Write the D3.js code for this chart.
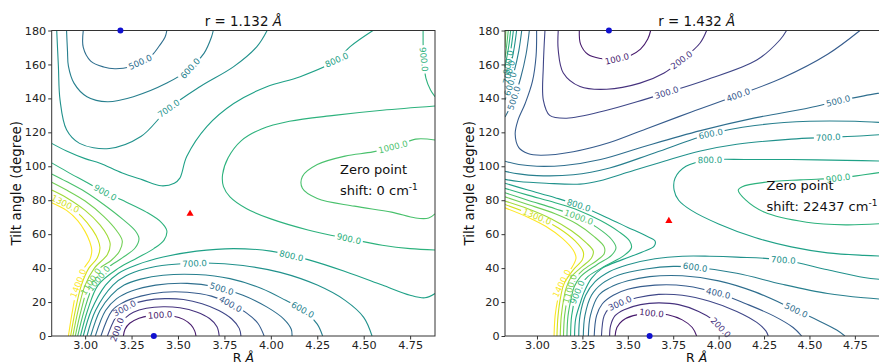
<!DOCTYPE html>
<html><head><meta charset="utf-8">
<script src="https://cdn.jsdelivr.net/npm/d3@7"></script>
<style>body{margin:0;background:#fff}text{font-family:"DejaVu Sans",sans-serif}</style>
</head><body>
<svg id="c" width="879" height="364"></svg>
<script>
// ---------------- data ----------------
const levels = [100,200,300,400,500,600,700,800,900,1000,1100,1200,1300,1400];
const xTicks = [3.00,3.25,3.50,3.75,4.00,4.25,4.50,4.75];
const yTicks = [0,20,40,60,80,100,120,140,160,180];

// panel 1 (r = 1.132 Å): contour lines [level, [[R, tilt], ...]]
const p1Contours = [
 [100,[[3.206,0],[3.215,4],[3.24,7.5],[3.29,10.5],[3.35,12],[3.41,12.4],[3.47,11.8],[3.53,9.8],[3.57,6.5],[3.59,3],[3.597,0]]],
 [200,[[3.16,0],[3.18,6],[3.22,11],[3.26,14],[3.33,16.3],[3.42,17.2],[3.51,16.6],[3.6,14.2],[3.67,10.3],[3.71,5.5],[3.722,0]]],
 [300,[[3.12,0],[3.15,8],[3.19,15],[3.25,18.5],[3.33,21],[3.43,22],[3.53,21.5],[3.63,19],[3.72,15],[3.79,10],[3.83,4.5],[3.839,0]]],
 [400,[[3.085,0],[3.145,15],[3.2,19.5],[3.30,23.5],[3.42,25.8],[3.55,25.8],[3.68,23.5],[3.78,19],[3.87,13.5],[3.93,7.5],[3.964,0]]],
 [500,[[3.055,0],[3.11,15],[3.17,22],[3.25,26.5],[3.38,30],[3.55,31],[3.70,29],[3.85,24],[3.98,17],[4.07,10],[4.11,4],[4.114,0]]],
 [600,[[3.03,0],[3.08,15],[3.14,24],[3.21,30],[3.3,33.5],[3.42,35.8],[3.60,36.2],[3.78,33.8],[3.95,28],[4.08,21],[4.18,15],[4.25,7],[4.279,0]]],
 [700,[[3.01,0],[3.056,15],[3.15,30],[3.22,35.5],[3.32,39.5],[3.45,42],[3.65,43],[3.85,41.5],[4.05,37.5],[4.25,30],[4.40,21],[4.50,11],[4.545,0]]],
 [800,[[2.99,0],[3.033,15],[3.11,30],[3.18,37],[3.28,42],[3.42,46.5],[3.6,50],[3.8,51.5],[4.0,50],[4.2,45],[4.4,38],[4.6,30],[4.75,24],[4.83,22.5],[4.884,25]]],
 [500,[[2.99,180],[2.99,170],[3.03,162],[3.10,158.5],[3.16,157.5],[3.24,158.5],[3.30,161.5],[3.36,165.5],[3.40,171],[3.43,176],[3.44,180]]],
 [600,[[2.90,180],[2.905,168],[2.91,159],[2.94,149],[3.01,141],[3.12,138],[3.26,141],[3.44,149],[3.565,157.5],[3.64,166.5],[3.68,176],[3.69,180]]],
 [700,[[2.847,180],[2.856,159],[2.865,139],[2.90,121.5],[2.97,113.5],[3.13,110.5],[3.30,117.5],[3.45,134],[3.62,147],[3.80,158.7],[3.925,170.5],[3.98,180]]],
 [800,[[2.82,113.5],[2.9,109],[3.0,104.5],[3.08,101.8],[3.2,96],[3.31,92],[3.41,88.5],[3.48,90],[3.51,93],[3.547,105.7],[3.655,123.4],[3.80,137],[3.978,146.9],[4.158,152.8],[4.355,162.6],[4.427,170.5],[4.55,180]]],
 [900,[[2.82,102],[2.9,97],[3.0,91],[3.108,84.5],[3.22,79],[3.33,73],[3.41,67],[3.44,62],[3.425,56.5],[3.37,51.5],[3.28,46],[3.18,40],[3.07,30],[3.013,15],[2.975,0]]],
 [900,[[4.884,135.5],[4.6,133],[4.34,130],[4.1,126.5],[3.95,122],[3.84,115],[3.77,105],[3.74,95],[3.745,88],[3.78,82],[3.87,75],[4.0,69],[4.2,62.5],[4.42,57.3],[4.6,53.5],[4.75,51.5],[4.884,50.7]]],
 [900,[[4.82,180],[4.822,165],[4.835,152],[4.86,145],[4.884,141]]],
 [1000,[[4.884,115.5],[4.78,116],[4.68,112],[4.55,108.5],[4.4,106],[4.25,101],[4.17,94],[4.17,87],[4.25,81],[4.45,76.5],[4.65,73],[4.78,69.5],[4.85,69.5],[4.884,72]]],
 [1000,[[2.82,95.5],[2.9,91],[3.0,85],[3.1,77.5],[3.2,69],[3.27,62],[3.29,57.5],[3.27,52],[3.2,46],[3.12,40],[3.045,30],[2.995,15],[2.96,0]]],
 [1100,[[2.82,90.6],[2.9,86],[3.0,79.5],[3.1,70.5],[3.17,62],[3.2,56],[3.185,50],[3.14,44.5],[3.08,40],[3.02,30],[2.978,15],[2.947,0]]],
 [1200,[[2.82,86],[2.9,81.5],[3.0,74],[3.08,65.5],[3.12,59],[3.135,54],[3.12,48],[3.05,40],[3.0,30],[2.962,15],[2.934,0]]],
 [1300,[[2.82,82],[2.9,77.5],[2.98,70.5],[3.04,62.5],[3.07,56.5],[3.08,52],[3.065,46],[3.02,40],[2.98,30],[2.947,15],[2.922,0]]],
 [1400,[[2.82,78.5],[2.9,74],[2.96,68],[3.0,61.5],[3.025,55.5],[3.036,50.5],[3.025,45],[2.995,40],[2.96,30],[2.932,15],[2.91,0]]]
];
// panel 1 contour labels [level, R, tilt]
const p1Labels = [
 [500,3.296,161.6],[600,3.565,157.7],[700,3.449,134.2],[800,4.355,162.6],[900,4.825,163],[1000,4.66,110.6],
 [900,3.108,84.5],[1300,2.89,77.2],[900,4.42,57.3],[800,4.11,47.1],[700,3.59,41.8],[600,4.176,16.3],
 [500,3.736,28.1],[400,3.78,18.3],[300,3.206,17.5],[100,3.404,12],[200,3.14,5],[1400,2.964,31],[1100,3.018,33],[1000,3.072,34]
];
const p1Minima = [[3.19,180],[3.37,0]];
const p1Saddle = [[3.565,72]];

// panel 2 (r = 1.432 Å)
const p2Contours = [
 [100,[[3.233,180],[3.24,172],[3.28,166],[3.35,163.5],[3.43,163],[3.51,165],[3.57,169],[3.61,175],[3.626,180]]],
 [200,[[3.117,180],[3.117,168.5],[3.145,155],[3.237,147],[3.384,145.4],[3.567,149],[3.70,155],[3.796,162.6],[3.897,172.5],[3.934,180]]],
 [300,[[3.044,180],[3.035,159],[3.035,139],[3.07,130],[3.163,128.3],[3.384,133],[3.55,138],[3.714,143.4],[3.934,151],[4.21,162.6],[4.337,174.4],[4.374,180]]],
 [400,[[2.998,180],[2.995,165],[2.975,150],[2.935,137],[2.895,127],[2.88,119],[2.90,111],[2.95,107.5],[3.02,106.5],[3.2,108.6],[3.4,114],[3.6,122],[3.85,132],[4.108,142],[4.35,152],[4.6,166],[4.778,180]]],
 [500,[[2.958,180],[2.94,166],[2.91,152],[2.87,139],[2.824,129]]],
 [500,[[2.824,103],[2.9,101],[3.0,100],[3.15,100.5],[3.35,104],[3.6,112],[3.9,121],[4.2,128.5],[4.5,134.5],[4.658,138.5],[4.8,141.5],[4.934,144]]],
 [600,[[2.916,180],[2.9,168],[2.875,156],[2.85,147],[2.824,139]]],
 [600,[[2.824,97],[2.9,95.5],[3.0,94.5],[3.2,95],[3.4,99],[3.65,108],[3.952,119],[4.2,124],[4.5,126.5],[4.75,126.5],[4.934,125.5]]],
 [700,[[2.888,180],[2.875,170],[2.855,159],[2.824,147]]],
 [700,[[2.824,92.3],[2.9,91],[3.05,90],[3.237,89.5],[3.347,91.5],[3.5,96.5],[3.7,103],[3.9,109],[4.1,113],[4.4,116],[4.603,117],[4.8,118],[4.934,119]]],
 [800,[[2.870,180],[2.858,170],[2.84,160],[2.824,153]]],
 [900,[[2.855,180],[2.845,171],[2.824,158.5]]],
 [1000,[[2.842,180],[2.833,171],[2.824,164]]],
 [1100,[[2.829,180],[2.824,170]]],
 [800,[[4.934,103],[4.7,103.5],[4.4,104],[4.15,104],[3.952,103.7],[3.82,100],[3.76,93],[3.755,86],[3.78,80],[3.85,74],[4.0,66],[4.2,58],[4.4,52.5],[4.6,49],[4.8,47.5],[4.934,47]]],
 [900,[[4.934,97],[4.8,95],[4.658,93],[4.45,92],[4.25,90.5],[4.13,88],[4.108,86],[4.15,80],[4.25,73],[4.484,67],[4.7,65.5],[4.934,66.5]]],
 [100,[[3.43,0],[3.44,5],[3.47,9],[3.53,12],[3.63,13.5],[3.72,12.5],[3.80,9.5],[3.855,5],[3.879,0]]],
 [200,[[3.40,0],[3.405,6],[3.43,12],[3.48,15.5],[3.57,18.5],[3.67,19.5],[3.78,18.5],[3.89,14.5],[3.97,9.5],[4.02,4],[4.044,0]]],
 [300,[[3.355,0],[3.37,12],[3.40,16.5],[3.457,19.3],[3.55,22.5],[3.67,24.5],[3.80,24],[3.95,20.5],[4.10,14.5],[4.21,8],[4.26,3],[4.273,0]]],
 [400,[[3.315,0],[3.328,12],[3.36,19],[3.42,24],[3.5,27.5],[3.65,30],[3.82,29.5],[3.998,25.2],[4.15,19],[4.3,12],[4.41,5],[4.457,0]]],
 [500,[[3.283,0],[3.294,12],[3.34,24],[3.4,28.5],[3.5,32.5],[3.62,35],[3.8,35.5],[4.0,32.5],[4.2,26],[4.41,16],[4.55,9],[4.65,3.5],[4.695,0]]],
 [600,[[3.255,0],[3.264,12],[3.30,24],[3.36,31],[3.45,36],[3.6,39.5],[3.75,41],[3.87,40.5],[4.1,37],[4.35,30.5],[4.6,25],[4.8,22.5],[4.934,21.5]]],
 [700,[[3.23,0],[3.237,12],[3.268,24],[3.32,32],[3.4,38],[3.5,42],[3.65,45.5],[3.8,47],[3.95,47],[4.1,46.5],[4.356,44.8],[4.6,39],[4.8,34.5],[4.934,33]]],
 [800,[[2.824,90],[2.95,86],[3.1,81.5],[3.23,77],[3.38,70],[3.5,64],[3.6,59],[3.65,56],[3.645,53],[3.58,49.5],[3.47,45],[3.36,40],[3.3,34],[3.26,26],[3.24,20],[3.213,10],[3.207,0]]],
 [900,[[2.824,87],[2.95,83],[3.1,78.5],[3.23,74],[3.35,68],[3.45,61.5],[3.51,56],[3.52,52],[3.48,47.5],[3.38,41.5],[3.28,35],[3.235,29],[3.215,24],[3.191,12],[3.185,0]]],
 [1000,[[2.824,84.4],[2.95,80],[3.1,75],[3.23,70],[3.33,64],[3.41,57],[3.435,52],[3.41,47.5],[3.33,42],[3.24,35],[3.205,29],[3.192,24],[3.171,12],[3.165,0]]],
 [1100,[[2.824,82],[2.95,77.5],[3.1,72],[3.22,66],[3.31,59],[3.37,52.5],[3.37,48.5],[3.33,44.5],[3.25,38.5],[3.19,31],[3.171,24],[3.152,12],[3.146,0]]],
 [1200,[[2.824,79.5],[2.95,75],[3.08,69],[3.19,62],[3.27,55],[3.31,50],[3.3,46],[3.25,41],[3.19,35],[3.16,28],[3.151,24],[3.134,12],[3.128,0]]],
 [1300,[[2.824,77.5],[2.95,72.5],[3.0,70.3],[3.12,63.5],[3.21,56],[3.255,49.5],[3.25,45],[3.2,39],[3.15,31],[3.132,24],[3.116,12],[3.11,0]]],
 [1400,[[2.824,75.5],[2.95,70],[3.05,64.5],[3.14,57.5],[3.2,50.5],[3.215,46],[3.19,40],[3.15,34],[3.136,31],[3.115,22],[3.1,12],[3.094,0]]]
];
const p2Labels = [
 [100,3.439,164],[200,3.796,162.6],[300,3.714,143.4],[400,4.108,142],[500,4.658,138.5],[600,3.952,121.4],[700,4.603,117],
 [800,3.952,103.7],[900,4.658,93],[500,2.88,140],[600,2.87,148],[700,2.86,155],[800,2.85,161],
 [100,3.631,13.5],[200,4.007,4.5],[300,3.457,19.3],[400,3.998,25.2],[500,4.41,11.4],[600,3.87,39.9],[700,4.356,44.8],
 [800,3.23,77],[1000,3.23,70],[1300,3.0,70.3],[1400,3.136,31],[1100,3.175,28],[900,3.218,26]
];
const p2Minima = [[3.396,180],[3.62,0]];
const p2Saddle = [[3.726,67.8]];

const titles = ["1.132","1.432"];
const shifts = ["0","22437"];

// ---------------- drawing ----------------
const svg = d3.select("#c");
const defs = svg.append("defs");
const top0 = 30.5, bot0 = 336;
const color = l => d3.interpolateViridis(l / 1400);

const panels = [
  {left:51.7, right:435, dom:[2.82,4.884], contours:p1Contours, labels:p1Labels, minima:p1Minima, saddle:p1Saddle,
   title:titles[0], shift:shifts[0], noteX:340, noteY:174, ylabX:21},
  {left:505, right:888.3, dom:[2.824,4.934], contours:p2Contours, labels:p2Labels, minima:p2Minima, saddle:p2Saddle,
   title:titles[1], shift:shifts[1], noteX:766.5, noteY:190, ylabX:474}
];

panels.forEach((P, pi) => {
  const x = d3.scaleLinear().domain(P.dom).range([P.left, P.right]);
  const y = d3.scaleLinear().domain([0,180]).range([bot0, top0]);
  const g = svg.append("g");
  defs.append("clipPath").attr("id","clip"+pi).append("rect")
    .attr("x",P.left).attr("y",top0).attr("width",P.right-P.left).attr("height",bot0-top0);

  const line = d3.line().x(d=>x(d[0])).y(d=>y(d[1])).curve(d3.curveCatmullRom.alpha(0.5));

  const labG = g.append("g");
  const masks = {};
  levels.forEach(l => {
    const m = defs.append("mask").attr("id",`m${pi}_${l}`).attr("maskUnits","userSpaceOnUse")
      .attr("x",0).attr("y",0).attr("width",879).attr("height",364);
    m.append("rect").attr("x",0).attr("y",0).attr("width",879).attr("height",364).attr("fill","#fff");
    masks[l] = m;
  });
  P.labels.forEach(([lv,R,a]) => {
    const px = x(R), py = y(a);
    let best = {d:1e9};
    P.contours.filter(c => c[0]===lv).forEach(c => {
      const pts = c[1].map(p => [x(p[0]), y(p[1])]);
      for (let i=0;i<pts.length-1;i++){
        const [x1,y1]=pts[i],[x2,y2]=pts[i+1];
        const dx=x2-x1, dy=y2-y1, L2=dx*dx+dy*dy||1;
        let t=((px-x1)*dx+(py-y1)*dy)/L2; t=Math.max(0,Math.min(1,t));
        const qx=x1+t*dx, qy=y1+t*dy, d=Math.hypot(px-qx,py-qy);
        if(d<best.d){best={d,qx,qy,ang:Math.atan2(dy,dx)*180/Math.PI};}
      }
    });
    if(best.d>1e8) return;
    let ang = best.ang; if(ang>90) ang-=180; if(ang<-90) ang+=180;
    const tr = `translate(${best.qx},${best.qy}) rotate(${ang})`;
    const t = labG.append("text").attr("transform",tr).attr("text-anchor","middle").attr("dy","0.35em")
      .attr("font-size",8.6).attr("fill",color(lv)).text(lv.toFixed(1));
    const w = t.node().getComputedTextLength();
    masks[lv].append("rect").attr("transform",tr).attr("x",-w/2-2).attr("y",-4.5).attr("width",w+4).attr("height",9).attr("fill","#000");
  });

  const cg = g.insert("g", ":first-child").attr("clip-path",`url(#clip${pi})`);
  P.contours.forEach(([lv,pts]) => {
    cg.append("path").attr("d", line(pts)).attr("fill","none").attr("stroke",color(lv))
      .attr("stroke-width",1.1).attr("mask",`url(#m${pi}_${lv})`);
  });

  g.append("rect").attr("x",P.left).attr("y",top0).attr("width",P.right-P.left).attr("height",bot0-top0)
    .attr("fill","none").attr("stroke","#333").attr("stroke-width",1);

  const xa = g.append("g").attr("transform",`translate(0,${bot0})`)
    .call(d3.axisBottom(x).tickValues(xTicks).tickFormat(d3.format(".2f")).tickSize(3.5).tickSizeOuter(0).tickPadding(2));
  const ya = g.append("g").attr("transform",`translate(${P.left},0)`)
    .call(d3.axisLeft(y).tickValues(yTicks).tickFormat(d3.format("d")).tickSize(3.5).tickSizeOuter(0).tickPadding(2));
  [xa,ya].forEach(a => {
    a.select(".domain").remove();
    a.selectAll("line").attr("stroke","#333");
    a.selectAll("text").attr("font-family","DejaVu Sans").attr("font-size",11.2).attr("fill","#222");
  });

  g.selectAll(".mn").data(P.minima).enter().append("circle")
    .attr("cx",d=>x(d[0])).attr("cy",d=>y(d[1])).attr("r",3).attr("fill","#1010d0");
  const tri = d3.symbol().type(d3.symbolTriangle).size(22);
  g.selectAll(".sd").data(P.saddle).enter().append("path").attr("d",tri)
    .attr("transform",d=>`translate(${x(d[0])},${y(d[1])})`).attr("fill","#ff0000");

  const cx = (P.left+P.right)/2;
  const tt = g.append("text").attr("x",cx).attr("y",26).attr("text-anchor","middle").attr("font-size",13.4).attr("fill","#111");
  tt.append("tspan").text(`r = ${P.title} `);
  tt.append("tspan").attr("font-style","italic").text("Å");
  const xl = g.append("text").attr("x",cx).attr("y",362).attr("text-anchor","middle").attr("font-size",12.5).attr("fill","#111");
  xl.append("tspan").text("R ");
  xl.append("tspan").attr("font-style","italic").text("Å");
  g.append("text").attr("transform",`translate(${P.ylabX},${(top0+bot0)/2}) rotate(-90)`)
    .attr("text-anchor","middle").attr("font-size",13.5).attr("fill","#111").text("Tilt angle (degree)");

  g.append("text").attr("x",P.noteX).attr("y",P.noteY).attr("font-size",13).attr("fill","#111").text("Zero point");
  const n2 = g.append("text").attr("x",P.noteX).attr("y",P.noteY+21).attr("font-size",13).attr("fill","#111");
  n2.append("tspan").text(`shift: ${P.shift} cm`);
  n2.append("tspan").attr("dy",-5).attr("font-size",9).text("-1");
});
</script>
</body></html>
